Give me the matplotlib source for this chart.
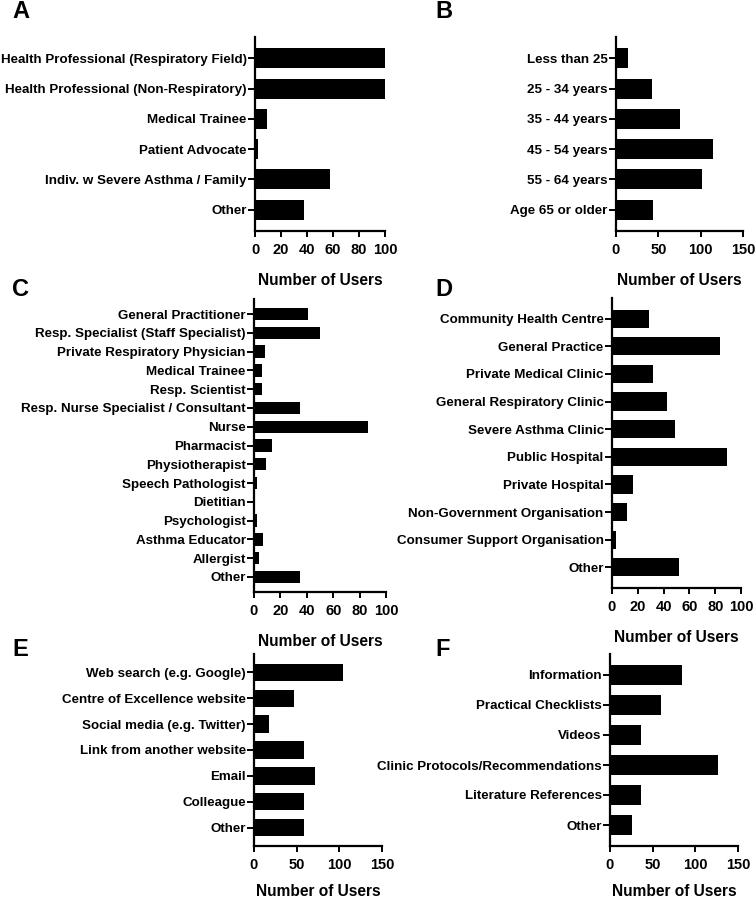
#!/usr/bin/env python3
"""Six-panel horizontal bar figure of website user survey responses."""

import matplotlib

matplotlib.use("Agg")
import matplotlib.pyplot as plt

A_LABELS = [
    "Health Professional (Respiratory Field)",
    "Health Professional (Non-Respiratory)",
    "Medical Trainee",
    "Patient Advocate",
    "Indiv. w Severe Asthma / Family",
    "Other",
]
A_VALUES = [100, 100, 9, 2, 58, 38]

B_LABELS = [
    "Less than 25",
    "25 - 34 years",
    "35 - 44 years",
    "45 - 54 years",
    "55 - 64 years",
    "Age 65 or older",
]
B_VALUES = [14, 42, 76, 114, 101, 44]

C_LABELS = [
    "General Practitioner",
    "Resp. Specialist (Staff Specialist)",
    "Private Respiratory Physician",
    "Medical Trainee",
    "Resp. Scientist",
    "Resp. Nurse Specialist / Consultant",
    "Nurse",
    "Pharmacist",
    "Physiotherapist",
    "Speech Pathologist",
    "Dietitian",
    "Psychologist",
    "Asthma Educator",
    "Allergist",
    "Other",
]
C_VALUES = [41, 50, 8, 6, 6, 35, 86, 14, 9, 2, 0, 2, 7, 4, 35]

D_LABELS = [
    "Community Health Centre",
    "General Practice",
    "Private Medical Clinic",
    "General Respiratory Clinic",
    "Severe Asthma Clinic",
    "Public Hospital",
    "Private Hospital",
    "Non-Government Organisation",
    "Consumer Support Organisation",
    "Other",
]
D_VALUES = [29, 84, 32, 43, 49, 89, 16, 12, 3, 52]

E_LABELS = [
    "Web search (e.g. Google)",
    "Centre of Excellence website",
    "Social media (e.g. Twitter)",
    "Link from another website",
    "Email",
    "Colleague",
    "Other",
]
E_VALUES = [104, 47, 17, 59, 71, 59, 59]

F_LABELS = [
    "Information",
    "Practical Checklists",
    "Videos",
    "Clinic Protocols/Recommendations",
    "Literature References",
    "Other",
]
F_VALUES = [84, 60, 36, 126, 36, 26]

W, H = 755, 900
FONT = "Liberation Sans"


def px_axes(fig, left, right, top, bottom):
    return fig.add_axes([left / W, 1 - bottom / H, (right - left) / W, (bottom - top) / H])


def panel(ax, labels, values, xmax, xticks, pad=0.7, labelpad=12):
    y = list(range(len(labels)))
    ax.barh(y, values, height=0.66, color="black")
    ax.set_yticks(y, labels)
    ax.set_ylim(len(labels) - 1 + pad, -pad)
    ax.set_xlim(0, xmax)
    ax.set_xticks(xticks)
    ax.spines["top"].set_visible(False)
    ax.spines["right"].set_visible(False)
    for side in ("left", "bottom"):
        ax.spines[side].set_linewidth(1.6)
    ax.tick_params(axis="y", length=5, width=1.4, labelsize=9.6, pad=1)
    ax.tick_params(axis="x", length=4, width=1.4, labelsize=10.5, pad=4.5)
    for t in ax.get_yticklabels() + ax.get_xticklabels():
        t.set_fontweight("bold")
        t.set_family(FONT)
    ax.set_xlabel("Number of Users", fontsize=11.2, fontweight="bold",
                  family=FONT, labelpad=labelpad)


def main():
    fig = plt.figure(figsize=(W / 100, H / 100), dpi=100)

    ax = px_axes(fig, 255, 385, 37, 231)
    panel(ax, A_LABELS, A_VALUES, 100, [0, 20, 40, 60, 80, 100])
    ax = px_axes(fig, 616, 743, 37, 231)
    panel(ax, B_LABELS, B_VALUES, 150, [0, 50, 100, 150])
    ax = px_axes(fig, 254, 386, 299, 592)
    panel(ax, C_LABELS, C_VALUES, 100, [0, 20, 40, 60, 80, 100], pad=0.8)
    ax = px_axes(fig, 612, 741, 298, 588)
    panel(ax, D_LABELS, D_VALUES, 100, [0, 20, 40, 60, 80, 100], pad=0.75)
    ax = px_axes(fig, 254, 382, 654, 846)
    panel(ax, E_LABELS, E_VALUES, 150, [0, 50, 100, 150], labelpad=9)
    ax = px_axes(fig, 610, 738, 654, 846)
    panel(ax, F_LABELS, F_VALUES, 150, [0, 50, 100, 150], labelpad=9)

    letters = [("A", 12, 12), ("B", 435, 12), ("C", 12, 289),
               ("D", 435, 289), ("E", 12, 650), ("F", 435, 650)]
    for letter, x, y in letters:
        fig.text(x / W, 1 - y / H, letter, fontsize=17, fontweight="bold",
                 family=FONT, va="center", ha="left")

    fig.savefig("out.png", dpi=100, facecolor="white")


if __name__ == "__main__":
    main()
